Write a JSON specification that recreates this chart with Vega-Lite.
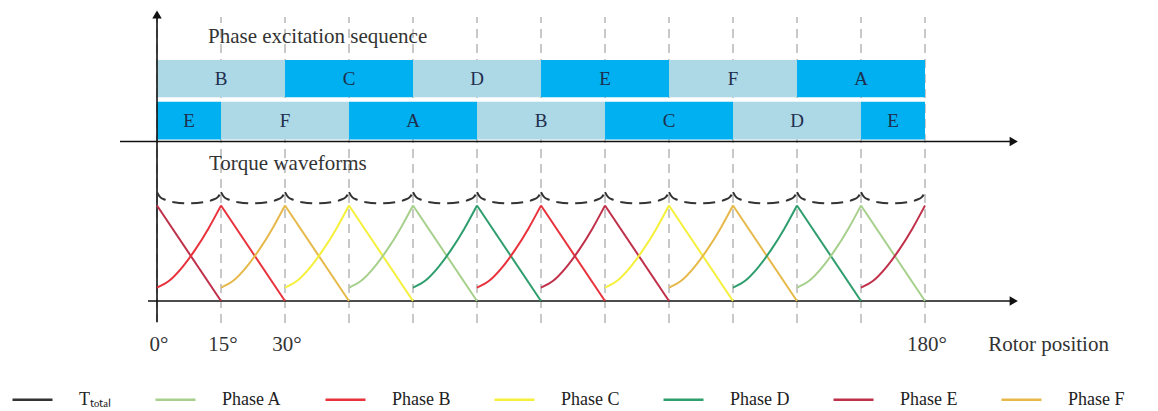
{
  "$schema": "https://vega.github.io/schema/vega-lite/v6.json",
  "width": 1158,
  "height": 411,
  "autosize": {"type": "none"},
  "padding": 0,
  "config": {
    "view": {"stroke": null},
    "legend": {
      "orient": "none",
      "legendX": 11,
      "legendY": 378,
      "direction": "horizontal",
      "columns": 7,
      "symbolType": "stroke",
      "symbolSize": 1600,
      "symbolStrokeWidth": 2.5,
      "labelFont": "Liberation Serif",
      "labelFontSize": 18,
      "labelColor": "#222222",
      "labelOffset": 25,
      "columnPadding": 38,
      "padding": 0,
      "labelLimit": 0
    }
  },
  "datasets": {
    "one": [{}],
    "grid": [{"d":0},{"d":15},{"d":30},{"d":45},{"d":60},{"d":75},{"d":90},{"d":105},{"d":120},{"d":135},{"d":150},{"d":165},{"d":180}],
    "bars": [
      {"r":"u","p":"B","a":0,"b":30,"k":"light"},
      {"r":"u","p":"C","a":30,"b":60,"k":"dark"},
      {"r":"u","p":"D","a":60,"b":90,"k":"light"},
      {"r":"u","p":"E","a":90,"b":120,"k":"dark"},
      {"r":"u","p":"F","a":120,"b":150,"k":"light"},
      {"r":"u","p":"A","a":150,"b":180,"k":"dark"},
      {"r":"l","p":"E","a":0,"b":15,"k":"dark"},
      {"r":"l","p":"F","a":15,"b":45,"k":"light"},
      {"r":"l","p":"A","a":45,"b":75,"k":"dark"},
      {"r":"l","p":"B","a":75,"b":105,"k":"light"},
      {"r":"l","p":"C","a":105,"b":135,"k":"dark"},
      {"r":"l","p":"D","a":135,"b":165,"k":"light"},
      {"r":"l","p":"E","a":165,"b":180,"k":"dark"}
    ],
    "ticks": [{"d":0,"t":"0°"},{"d":15,"t":"15°"},{"d":30,"t":"30°"},{"d":180,"t":"180°"}],
    "fall": [
      {"s":"Phase E","w":0,"d":0,"v":1},{"s":"Phase E","w":0,"d":15,"v":0},
      {"s":"Phase B","w":1,"d":15,"v":1},{"s":"Phase B","w":1,"d":30,"v":0},
      {"s":"Phase F","w":2,"d":30,"v":1},{"s":"Phase F","w":2,"d":45,"v":0},
      {"s":"Phase C","w":3,"d":45,"v":1},{"s":"Phase C","w":3,"d":60,"v":0},
      {"s":"Phase A","w":4,"d":60,"v":1},{"s":"Phase A","w":4,"d":75,"v":0},
      {"s":"Phase D","w":5,"d":75,"v":1},{"s":"Phase D","w":5,"d":90,"v":0},
      {"s":"Phase B","w":6,"d":90,"v":1},{"s":"Phase B","w":6,"d":105,"v":0},
      {"s":"Phase E","w":7,"d":105,"v":1},{"s":"Phase E","w":7,"d":120,"v":0},
      {"s":"Phase C","w":8,"d":120,"v":1},{"s":"Phase C","w":8,"d":135,"v":0},
      {"s":"Phase F","w":9,"d":135,"v":1},{"s":"Phase F","w":9,"d":150,"v":0},
      {"s":"Phase D","w":10,"d":150,"v":1},{"s":"Phase D","w":10,"d":165,"v":0},
      {"s":"Phase A","w":11,"d":165,"v":1},{"s":"Phase A","w":11,"d":180,"v":0}
    ],
    "rise": [
      {"s":"Phase B","w":1,"d":0,"v":0.14},{"s":"Phase B","w":1,"d":3,"v":0.217},{"s":"Phase B","w":1,"d":6,"v":0.358},{"s":"Phase B","w":1,"d":9,"v":0.54},{"s":"Phase B","w":1,"d":12,"v":0.755},{"s":"Phase B","w":1,"d":15,"v":1},
      {"s":"Phase F","w":2,"d":15,"v":0.14},{"s":"Phase F","w":2,"d":18,"v":0.217},{"s":"Phase F","w":2,"d":21,"v":0.358},{"s":"Phase F","w":2,"d":24,"v":0.54},{"s":"Phase F","w":2,"d":27,"v":0.755},{"s":"Phase F","w":2,"d":30,"v":1},
      {"s":"Phase C","w":3,"d":30,"v":0.14},{"s":"Phase C","w":3,"d":33,"v":0.217},{"s":"Phase C","w":3,"d":36,"v":0.358},{"s":"Phase C","w":3,"d":39,"v":0.54},{"s":"Phase C","w":3,"d":42,"v":0.755},{"s":"Phase C","w":3,"d":45,"v":1},
      {"s":"Phase A","w":4,"d":45,"v":0.14},{"s":"Phase A","w":4,"d":48,"v":0.217},{"s":"Phase A","w":4,"d":51,"v":0.358},{"s":"Phase A","w":4,"d":54,"v":0.54},{"s":"Phase A","w":4,"d":57,"v":0.755},{"s":"Phase A","w":4,"d":60,"v":1},
      {"s":"Phase D","w":5,"d":60,"v":0.14},{"s":"Phase D","w":5,"d":63,"v":0.217},{"s":"Phase D","w":5,"d":66,"v":0.358},{"s":"Phase D","w":5,"d":69,"v":0.54},{"s":"Phase D","w":5,"d":72,"v":0.755},{"s":"Phase D","w":5,"d":75,"v":1},
      {"s":"Phase B","w":6,"d":75,"v":0.14},{"s":"Phase B","w":6,"d":78,"v":0.217},{"s":"Phase B","w":6,"d":81,"v":0.358},{"s":"Phase B","w":6,"d":84,"v":0.54},{"s":"Phase B","w":6,"d":87,"v":0.755},{"s":"Phase B","w":6,"d":90,"v":1},
      {"s":"Phase E","w":7,"d":90,"v":0.14},{"s":"Phase E","w":7,"d":93,"v":0.217},{"s":"Phase E","w":7,"d":96,"v":0.358},{"s":"Phase E","w":7,"d":99,"v":0.54},{"s":"Phase E","w":7,"d":102,"v":0.755},{"s":"Phase E","w":7,"d":105,"v":1},
      {"s":"Phase C","w":8,"d":105,"v":0.14},{"s":"Phase C","w":8,"d":108,"v":0.217},{"s":"Phase C","w":8,"d":111,"v":0.358},{"s":"Phase C","w":8,"d":114,"v":0.54},{"s":"Phase C","w":8,"d":117,"v":0.755},{"s":"Phase C","w":8,"d":120,"v":1},
      {"s":"Phase F","w":9,"d":120,"v":0.14},{"s":"Phase F","w":9,"d":123,"v":0.217},{"s":"Phase F","w":9,"d":126,"v":0.358},{"s":"Phase F","w":9,"d":129,"v":0.54},{"s":"Phase F","w":9,"d":132,"v":0.755},{"s":"Phase F","w":9,"d":135,"v":1},
      {"s":"Phase D","w":10,"d":135,"v":0.14},{"s":"Phase D","w":10,"d":138,"v":0.217},{"s":"Phase D","w":10,"d":141,"v":0.358},{"s":"Phase D","w":10,"d":144,"v":0.54},{"s":"Phase D","w":10,"d":147,"v":0.755},{"s":"Phase D","w":10,"d":150,"v":1},
      {"s":"Phase A","w":11,"d":150,"v":0.14},{"s":"Phase A","w":11,"d":153,"v":0.217},{"s":"Phase A","w":11,"d":156,"v":0.358},{"s":"Phase A","w":11,"d":159,"v":0.54},{"s":"Phase A","w":11,"d":162,"v":0.755},{"s":"Phase A","w":11,"d":165,"v":1},
      {"s":"Phase E","w":12,"d":165,"v":0.14},{"s":"Phase E","w":12,"d":168,"v":0.217},{"s":"Phase E","w":12,"d":171,"v":0.358},{"s":"Phase E","w":12,"d":174,"v":0.54},{"s":"Phase E","w":12,"d":177,"v":0.755},{"s":"Phase E","w":12,"d":180,"v":1}
    ],
    "total": [
      {"s":"T_total","g":0,"d":0,"v":1.14},{"s":"T_total","g":0,"d":0.7,"v":1.09},{"s":"T_total","g":0,"d":1.9,"v":1.06},{"s":"T_total","g":0,"d":4,"v":1.035},{"s":"T_total","g":0,"d":7.5,"v":1.023},{"s":"T_total","g":0,"d":11,"v":1.035},{"s":"T_total","g":0,"d":13.1,"v":1.06},{"s":"T_total","g":0,"d":14.3,"v":1.09},{"s":"T_total","g":0,"d":15,"v":1.14},
      {"s":"T_total","g":1,"d":15,"v":1.14},{"s":"T_total","g":1,"d":15.7,"v":1.09},{"s":"T_total","g":1,"d":16.9,"v":1.06},{"s":"T_total","g":1,"d":19,"v":1.035},{"s":"T_total","g":1,"d":22.5,"v":1.023},{"s":"T_total","g":1,"d":26,"v":1.035},{"s":"T_total","g":1,"d":28.1,"v":1.06},{"s":"T_total","g":1,"d":29.3,"v":1.09},{"s":"T_total","g":1,"d":30,"v":1.14},
      {"s":"T_total","g":2,"d":30,"v":1.14},{"s":"T_total","g":2,"d":30.7,"v":1.09},{"s":"T_total","g":2,"d":31.9,"v":1.06},{"s":"T_total","g":2,"d":34,"v":1.035},{"s":"T_total","g":2,"d":37.5,"v":1.023},{"s":"T_total","g":2,"d":41,"v":1.035},{"s":"T_total","g":2,"d":43.1,"v":1.06},{"s":"T_total","g":2,"d":44.3,"v":1.09},{"s":"T_total","g":2,"d":45,"v":1.14},
      {"s":"T_total","g":3,"d":45,"v":1.14},{"s":"T_total","g":3,"d":45.7,"v":1.09},{"s":"T_total","g":3,"d":46.9,"v":1.06},{"s":"T_total","g":3,"d":49,"v":1.035},{"s":"T_total","g":3,"d":52.5,"v":1.023},{"s":"T_total","g":3,"d":56,"v":1.035},{"s":"T_total","g":3,"d":58.1,"v":1.06},{"s":"T_total","g":3,"d":59.3,"v":1.09},{"s":"T_total","g":3,"d":60,"v":1.14},
      {"s":"T_total","g":4,"d":60,"v":1.14},{"s":"T_total","g":4,"d":60.7,"v":1.09},{"s":"T_total","g":4,"d":61.9,"v":1.06},{"s":"T_total","g":4,"d":64,"v":1.035},{"s":"T_total","g":4,"d":67.5,"v":1.023},{"s":"T_total","g":4,"d":71,"v":1.035},{"s":"T_total","g":4,"d":73.1,"v":1.06},{"s":"T_total","g":4,"d":74.3,"v":1.09},{"s":"T_total","g":4,"d":75,"v":1.14},
      {"s":"T_total","g":5,"d":75,"v":1.14},{"s":"T_total","g":5,"d":75.7,"v":1.09},{"s":"T_total","g":5,"d":76.9,"v":1.06},{"s":"T_total","g":5,"d":79,"v":1.035},{"s":"T_total","g":5,"d":82.5,"v":1.023},{"s":"T_total","g":5,"d":86,"v":1.035},{"s":"T_total","g":5,"d":88.1,"v":1.06},{"s":"T_total","g":5,"d":89.3,"v":1.09},{"s":"T_total","g":5,"d":90,"v":1.14},
      {"s":"T_total","g":6,"d":90,"v":1.14},{"s":"T_total","g":6,"d":90.7,"v":1.09},{"s":"T_total","g":6,"d":91.9,"v":1.06},{"s":"T_total","g":6,"d":94,"v":1.035},{"s":"T_total","g":6,"d":97.5,"v":1.023},{"s":"T_total","g":6,"d":101,"v":1.035},{"s":"T_total","g":6,"d":103.1,"v":1.06},{"s":"T_total","g":6,"d":104.3,"v":1.09},{"s":"T_total","g":6,"d":105,"v":1.14},
      {"s":"T_total","g":7,"d":105,"v":1.14},{"s":"T_total","g":7,"d":105.7,"v":1.09},{"s":"T_total","g":7,"d":106.9,"v":1.06},{"s":"T_total","g":7,"d":109,"v":1.035},{"s":"T_total","g":7,"d":112.5,"v":1.023},{"s":"T_total","g":7,"d":116,"v":1.035},{"s":"T_total","g":7,"d":118.1,"v":1.06},{"s":"T_total","g":7,"d":119.3,"v":1.09},{"s":"T_total","g":7,"d":120,"v":1.14},
      {"s":"T_total","g":8,"d":120,"v":1.14},{"s":"T_total","g":8,"d":120.7,"v":1.09},{"s":"T_total","g":8,"d":121.9,"v":1.06},{"s":"T_total","g":8,"d":124,"v":1.035},{"s":"T_total","g":8,"d":127.5,"v":1.023},{"s":"T_total","g":8,"d":131,"v":1.035},{"s":"T_total","g":8,"d":133.1,"v":1.06},{"s":"T_total","g":8,"d":134.3,"v":1.09},{"s":"T_total","g":8,"d":135,"v":1.14},
      {"s":"T_total","g":9,"d":135,"v":1.14},{"s":"T_total","g":9,"d":135.7,"v":1.09},{"s":"T_total","g":9,"d":136.9,"v":1.06},{"s":"T_total","g":9,"d":139,"v":1.035},{"s":"T_total","g":9,"d":142.5,"v":1.023},{"s":"T_total","g":9,"d":146,"v":1.035},{"s":"T_total","g":9,"d":148.1,"v":1.06},{"s":"T_total","g":9,"d":149.3,"v":1.09},{"s":"T_total","g":9,"d":150,"v":1.14},
      {"s":"T_total","g":10,"d":150,"v":1.14},{"s":"T_total","g":10,"d":150.7,"v":1.09},{"s":"T_total","g":10,"d":151.9,"v":1.06},{"s":"T_total","g":10,"d":154,"v":1.035},{"s":"T_total","g":10,"d":157.5,"v":1.023},{"s":"T_total","g":10,"d":161,"v":1.035},{"s":"T_total","g":10,"d":163.1,"v":1.06},{"s":"T_total","g":10,"d":164.3,"v":1.09},{"s":"T_total","g":10,"d":165,"v":1.14},
      {"s":"T_total","g":11,"d":165,"v":1.14},{"s":"T_total","g":11,"d":165.7,"v":1.09},{"s":"T_total","g":11,"d":166.9,"v":1.06},{"s":"T_total","g":11,"d":169,"v":1.035},{"s":"T_total","g":11,"d":172.5,"v":1.023},{"s":"T_total","g":11,"d":176,"v":1.035},{"s":"T_total","g":11,"d":178.1,"v":1.06},{"s":"T_total","g":11,"d":179.3,"v":1.09},{"s":"T_total","g":11,"d":180,"v":1.14}
    ]
  },
  "layer": [
    {
      "data": {"name": "grid"},
      "mark": {"type": "rule", "color": "#c8c8c8", "strokeWidth": 2, "strokeDash": [9, 6]},
      "encoding": {
        "x": {"field": "d", "type": "quantitative", "scale": {"domain": [-36.797, 234.61], "nice": false, "zero": false}, "axis": null},
        "y": {"datum": -0.23, "type": "quantitative", "scale": {"domain": [-1.152, 3.152], "nice": false, "zero": false}, "axis": null},
        "y2": {"datum": 2.974}
      }
    },
    {
      "data": {"name": "bars"},
      "transform": [{"filter": "datum.r == 'u'"}],
      "mark": {"type": "rect"},
      "encoding": {
        "x": {"field": "a", "type": "quantitative", "scale": {"domain": [-36.797, 234.61], "nice": false, "zero": false}, "axis": null},
        "x2": {"field": "b"},
        "y": {"datum": 2.524, "type": "quantitative", "scale": {"domain": [-1.152, 3.152], "nice": false, "zero": false}, "axis": null},
        "y2": {"datum": 2.133},
        "fill": {"field": "k", "type": "nominal", "scale": {"domain": ["light", "dark"], "range": ["#add8e6", "#00b0f0"]}, "legend": null}
      }
    },
    {
      "data": {"name": "bars"},
      "transform": [{"filter": "datum.r == 'l'"}],
      "mark": {"type": "rect"},
      "encoding": {
        "x": {"field": "a", "type": "quantitative", "scale": {"domain": [-36.797, 234.61], "nice": false, "zero": false}, "axis": null},
        "x2": {"field": "b"},
        "y": {"datum": 2.087, "type": "quantitative", "scale": {"domain": [-1.152, 3.152], "nice": false, "zero": false}, "axis": null},
        "y2": {"datum": 1.691},
        "fill": {"field": "k", "type": "nominal", "scale": {"domain": ["light", "dark"], "range": ["#add8e6", "#00b0f0"]}, "legend": null}
      }
    },
    {
      "data": {"name": "bars"},
      "transform": [{"filter": "datum.r == 'u'"}, {"calculate": "(datum.a + datum.b) / 2", "as": "m"}],
      "mark": {"type": "text", "font": "Liberation Serif", "fontSize": 19, "color": "#1f2f4d", "baseline": "middle", "align": "center"},
      "encoding": {
        "x": {"field": "m", "type": "quantitative", "scale": {"domain": [-36.797, 234.61], "nice": false, "zero": false}, "axis": null},
        "y": {"datum": 2.329, "type": "quantitative", "scale": {"domain": [-1.152, 3.152], "nice": false, "zero": false}, "axis": null},
        "text": {"field": "p"}
      }
    },
    {
      "data": {"name": "bars"},
      "transform": [{"filter": "datum.r == 'l'"}, {"calculate": "(datum.a + datum.b) / 2", "as": "m"}],
      "mark": {"type": "text", "font": "Liberation Serif", "fontSize": 19, "color": "#1f2f4d", "baseline": "middle", "align": "center"},
      "encoding": {
        "x": {"field": "m", "type": "quantitative", "scale": {"domain": [-36.797, 234.61], "nice": false, "zero": false}, "axis": null},
        "y": {"datum": 1.889, "type": "quantitative", "scale": {"domain": [-1.152, 3.152], "nice": false, "zero": false}, "axis": null},
        "text": {"field": "p"}
      }
    },
    {
      "data": {"name": "one"},
      "mark": {"type": "rule", "color": "#111111", "strokeWidth": 1.6},
      "encoding": {
        "x": {"datum": -8.67, "type": "quantitative", "scale": {"domain": [-36.797, 234.61], "nice": false, "zero": false}, "axis": null},
        "x2": {"datum": 200.5},
        "y": {"datum": 1.67, "type": "quantitative", "scale": {"domain": [-1.152, 3.152], "nice": false, "zero": false}, "axis": null}
      }
    },
    {
      "data": {"name": "one"},
      "mark": {"type": "rule", "color": "#111111", "strokeWidth": 1.6},
      "encoding": {
        "x": {"datum": -2.11, "type": "quantitative", "scale": {"domain": [-36.797, 234.61], "nice": false, "zero": false}, "axis": null},
        "x2": {"datum": 200.5},
        "y": {"datum": 0, "type": "quantitative", "scale": {"domain": [-1.152, 3.152], "nice": false, "zero": false}, "axis": null}
      }
    },
    {
      "data": {"name": "one"},
      "mark": {"type": "rule", "color": "#111111", "strokeWidth": 1.6},
      "encoding": {
        "x": {"datum": 0, "type": "quantitative", "scale": {"domain": [-36.797, 234.61], "nice": false, "zero": false}, "axis": null},
        "y": {"datum": -0.22, "type": "quantitative", "scale": {"domain": [-1.152, 3.152], "nice": false, "zero": false}, "axis": null},
        "y2": {"datum": 2.98}
      }
    },
    {
      "data": {"name": "one"},
      "mark": {"type": "point", "shape": "triangle-right", "filled": true, "color": "#111111", "size": 90, "opacity": 1},
      "encoding": {
        "x": {"datum": 200.8, "type": "quantitative", "scale": {"domain": [-36.797, 234.61], "nice": false, "zero": false}, "axis": null},
        "y": {"datum": 1.67, "type": "quantitative", "scale": {"domain": [-1.152, 3.152], "nice": false, "zero": false}, "axis": null}
      }
    },
    {
      "data": {"name": "one"},
      "mark": {"type": "point", "shape": "triangle-right", "filled": true, "color": "#111111", "size": 90, "opacity": 1},
      "encoding": {
        "x": {"datum": 200.8, "type": "quantitative", "scale": {"domain": [-36.797, 234.61], "nice": false, "zero": false}, "axis": null},
        "y": {"datum": 0, "type": "quantitative", "scale": {"domain": [-1.152, 3.152], "nice": false, "zero": false}, "axis": null}
      }
    },
    {
      "data": {"name": "one"},
      "mark": {"type": "point", "shape": "triangle-up", "filled": true, "color": "#111111", "size": 90, "opacity": 1},
      "encoding": {
        "x": {"datum": 0, "type": "quantitative", "scale": {"domain": [-36.797, 234.61], "nice": false, "zero": false}, "axis": null},
        "y": {"datum": 3.0, "type": "quantitative", "scale": {"domain": [-1.152, 3.152], "nice": false, "zero": false}, "axis": null}
      }
    },
    {
      "data": {"name": "fall"},
      "mark": {"type": "line", "strokeWidth": 2},
      "encoding": {
        "x": {"field": "d", "type": "quantitative", "scale": {"domain": [-36.797, 234.61], "nice": false, "zero": false}, "axis": null},
        "y": {"field": "v", "type": "quantitative", "scale": {"domain": [-1.152, 3.152], "nice": false, "zero": false}, "axis": null},
        "detail": {"field": "w"},
        "stroke": {"field": "s", "type": "nominal", "scale": {"domain": ["T_total", "Phase A", "Phase B", "Phase C", "Phase D", "Phase E", "Phase F"], "range": ["#333333", "#a8d08d", "#e8323c", "#f5f03c", "#2e9e6e", "#c0304a", "#e6b94a"]}, "legend": {"title": null, "labelExpr": "datum.label == 'T_total' ? 'Tₜₒₜₐₗ' : datum.label"}}
      }
    },
    {
      "data": {"name": "rise"},
      "mark": {"type": "line", "strokeWidth": 2, "interpolate": "monotone"},
      "encoding": {
        "x": {"field": "d", "type": "quantitative", "scale": {"domain": [-36.797, 234.61], "nice": false, "zero": false}, "axis": null},
        "y": {"field": "v", "type": "quantitative", "scale": {"domain": [-1.152, 3.152], "nice": false, "zero": false}, "axis": null},
        "detail": {"field": "w"},
        "stroke": {"field": "s", "type": "nominal", "scale": {"domain": ["T_total", "Phase A", "Phase B", "Phase C", "Phase D", "Phase E", "Phase F"], "range": ["#333333", "#a8d08d", "#e8323c", "#f5f03c", "#2e9e6e", "#c0304a", "#e6b94a"]}, "legend": {"title": null, "labelExpr": "datum.label == 'T_total' ? 'Tₜₒₜₐₗ' : datum.label"}}
      }
    },
    {
      "data": {"name": "total"},
      "mark": {"type": "line", "strokeWidth": 2, "interpolate": "monotone", "strokeDash": [12, 7]},
      "encoding": {
        "x": {"field": "d", "type": "quantitative", "scale": {"domain": [-36.797, 234.61], "nice": false, "zero": false}, "axis": null},
        "y": {"field": "v", "type": "quantitative", "scale": {"domain": [-1.152, 3.152], "nice": false, "zero": false}, "axis": null},
        "detail": {"field": "g"},
        "stroke": {"field": "s", "type": "nominal", "scale": {"domain": ["T_total", "Phase A", "Phase B", "Phase C", "Phase D", "Phase E", "Phase F"], "range": ["#333333", "#a8d08d", "#e8323c", "#f5f03c", "#2e9e6e", "#c0304a", "#e6b94a"]}, "legend": {"title": null, "labelExpr": "datum.label == 'T_total' ? 'Tₜₒₜₐₗ' : datum.label"}}
      }
    },
    {
      "data": {"name": "one"},
      "mark": {"type": "text", "font": "Liberation Serif", "fontSize": 21, "color": "#333333", "align": "left", "baseline": "alphabetic"},
      "encoding": {
        "x": {"datum": 11.95, "type": "quantitative", "scale": {"domain": [-36.797, 234.61], "nice": false, "zero": false}, "axis": null},
        "y": {"datum": 2.702, "type": "quantitative", "scale": {"domain": [-1.152, 3.152], "nice": false, "zero": false}, "axis": null},
        "text": {"value": "Phase excitation sequence"}
      }
    },
    {
      "data": {"name": "one"},
      "mark": {"type": "text", "font": "Liberation Serif", "fontSize": 21, "color": "#333333", "align": "left", "baseline": "alphabetic"},
      "encoding": {
        "x": {"datum": 12.19, "type": "quantitative", "scale": {"domain": [-36.797, 234.61], "nice": false, "zero": false}, "axis": null},
        "y": {"datum": 1.372, "type": "quantitative", "scale": {"domain": [-1.152, 3.152], "nice": false, "zero": false}, "axis": null},
        "text": {"value": "Torque waveforms"}
      }
    },
    {
      "data": {"name": "ticks"},
      "mark": {"type": "text", "font": "Liberation Serif", "fontSize": 21, "color": "#333333", "align": "center", "baseline": "alphabetic", "dx": 2},
      "encoding": {
        "x": {"field": "d", "type": "quantitative", "scale": {"domain": [-36.797, 234.61], "nice": false, "zero": false}, "axis": null},
        "y": {"datum": -0.52, "type": "quantitative", "scale": {"domain": [-1.152, 3.152], "nice": false, "zero": false}, "axis": null},
        "text": {"field": "t"}
      }
    },
    {
      "data": {"name": "one"},
      "mark": {"type": "text", "font": "Liberation Serif", "fontSize": 21, "color": "#333333", "align": "left", "baseline": "alphabetic"},
      "encoding": {
        "x": {"datum": 194.8, "type": "quantitative", "scale": {"domain": [-36.797, 234.61], "nice": false, "zero": false}, "axis": null},
        "y": {"datum": -0.52, "type": "quantitative", "scale": {"domain": [-1.152, 3.152], "nice": false, "zero": false}, "axis": null},
        "text": {"value": "Rotor position"}
      }
    }
  ]
}
